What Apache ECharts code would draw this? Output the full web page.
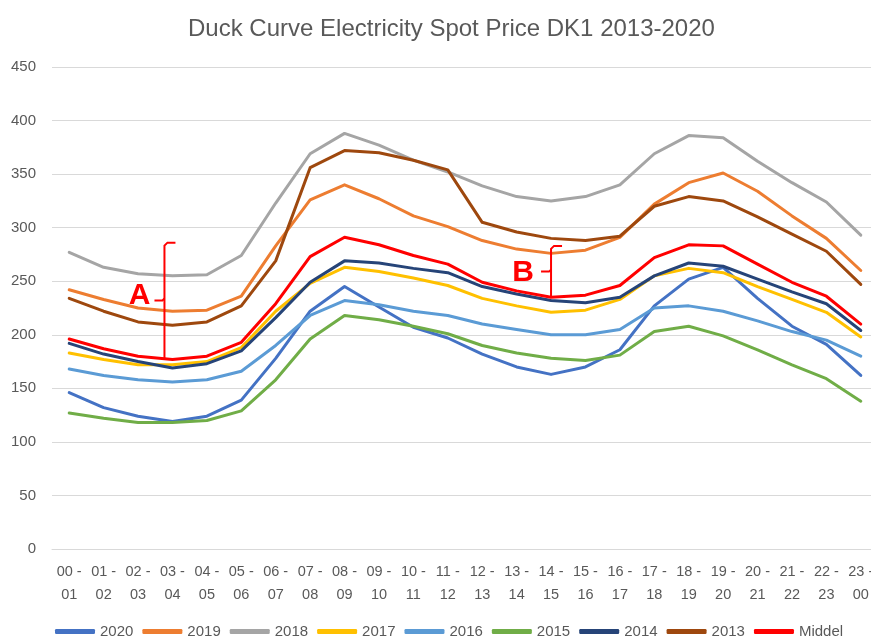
<!DOCTYPE html>
<html>
<head>
<meta charset="utf-8">
<title>Duck Curve</title>
<script src="https://cdn.jsdelivr.net/npm/echarts@6/dist/echarts.min.js"></script>
<style>
html, body { margin: 0; padding: 0; background: #fff; }
#chart { width: 871px; height: 637px; }
</style>
</head>
<body>
<div id="chart"></div>
<script>
// hour intervals on the x axis
var hourLabels = ['00 -\n01','01 -\n02','02 -\n03','03 -\n04','04 -\n05','05 -\n06','06 -\n07','07 -\n08',
                  '08 -\n09','09 -\n10','10 -\n11','11 -\n12','12 -\n13','13 -\n14','14 -\n15','15 -\n16',
                  '16 -\n17','17 -\n18','18 -\n19','19 -\n20','20 -\n21','21 -\n22','22 -\n23','23 -\n00'];

// spot price per hour
var p2020 = [146,132,124,119,124,139,178,222,245,226,207,197,182,170,163,170,186,227,252,263,234,208,191,162];
var p2019 = [242,233,225,222,223,236,283,326,340,327,311,301,288,280,276,279,291,322,342,351,334,311,290,260];
var p2018 = [277,263,257,255,256,274,323,369,388,377,363,352,339,329,325,329,340,369,386,384,362,342,324,293];
var p2017 = [183,177,172,172,175,188,222,248,263,259,253,246,234,227,221,223,233,255,262,258,245,233,221,198];
var p2016 = [168,162,158,156,158,166,190,218,232,228,222,218,210,205,200,200,205,225,227,222,213,203,195,180];
var p2015 = [127,122,118,118,120,129,158,196,218,214,208,201,190,183,178,176,181,203,208,199,186,172,159,138];
var p2014 = [192,182,175,169,173,185,216,249,269,267,262,258,245,238,232,230,235,255,267,264,252,240,229,204];
var p2013 = [234,222,212,209,212,227,269,356,372,370,363,354,305,296,290,288,292,320,329,325,310,294,278,247];
var middel = [196,187,180,177,180,193,229,273,291,284,274,266,249,241,235,237,246,272,284,283,266,249,236,210];

var seriesNames = ['2020','2019','2018','2017','2016','2015','2014','2013','Middel'];
var seriesColors = ['#4472C4','#ED7D31','#A5A5A5','#FFC000','#5B9BD5','#70AD47','#264478','#9E480E','#FF0000'];
var seriesData = [p2020, p2019, p2018, p2017, p2016, p2015, p2014, p2013, middel];

var txt = '#595959';
var gridCol = '#d9d9d9';

var series = [];
for (var i = 0; i < seriesNames.length; i++) {
    series.push({
        name: seriesNames[i],
        type: 'line',
        data: seriesData[i],
        symbol: 'none',
        color: seriesColors[i],
        lineStyle: { width: 3, color: seriesColors[i], cap: 'round', join: 'round' },
        emphasis: { disabled: true },
        z: 2 + i
    });
}

var option = {
    animation: false,
    backgroundColor: '#fff',
    title: {
        text: 'Duck Curve Electricity Spot Price DK1 2013-2020',
        left: 183,
        top: 12,
        textStyle: { color: txt, fontSize: 24, fontWeight: 'normal', fontFamily: 'Liberation Sans' }
    },
    grid: { left: 52, width: 826, top: 67, bottom: 88, containLabel: false, outerBoundsMode: 'none' },
    legend: {
        data: seriesNames,
        top: 624,
        left: 55,
        padding: 0,
        icon: 'roundRect',
        itemWidth: 40,
        itemHeight: 5,
        itemGap: 9,
        textStyle: { color: txt, fontSize: 15, fontFamily: 'Liberation Sans' }
    },
    xAxis: {
        type: 'category',
        data: hourLabels,
        boundaryGap: true,
        axisLine: { show: true, lineStyle: { color: gridCol, width: 1 } },
        axisTick: { show: false },
        axisLabel: { color: txt, fontSize: 14.5, lineHeight: 23, margin: 11, interval: 0, fontFamily: 'Liberation Sans' }
    },
    yAxis: {
        type: 'value',
        min: 0,
        max: 450,
        interval: 50,
        axisLine: { show: false },
        axisTick: { show: false },
        splitLine: { lineStyle: { color: gridCol, width: 1 } },
        axisLabel: { color: txt, fontSize: 15, margin: 16, fontFamily: 'Liberation Sans' }
    },
    series: series
};

var chart = echarts.init(document.getElementById('chart'), null, { renderer: 'canvas' });
chart.setOption(option);

// red brackets A and B
function toPx(idx, val) {
    return chart.convertToPixel({ xAxisIndex: 0, yAxisIndex: 0 }, [idx, val]);
}
function bracket(label, idx, dx, top, bottom, textDx, textDy) {
    var t = toPx(idx, top), b = toPx(idx, bottom);
    var x = t[0] + dx;
    var mid = (t[1] + b[1]) / 2;
    var red = '#FF0000';
    return [
        { type: 'polyline', shape: { points: [[x + 11, t[1]], [x + 3, t[1]], [x, t[1] + 3], [x, b[1]]] },
          style: { stroke: red, lineWidth: 2, fill: null }, z: 100 },
        { type: 'polyline', shape: { points: [[x - 10, mid], [x - 2, mid], [x, mid - 2]] },
          style: { stroke: red, lineWidth: 2, fill: null }, z: 100 },
        { type: 'text', z: 100,
          style: { text: label, x: x + textDx, y: mid + textDy, fill: red,
                   font: 'bold 30px "Liberation Sans", Arial, sans-serif',
                   align: 'center', verticalAlign: 'middle' } }
    ];
}
var marks = bracket('A', 3, -8, 286, 178, -25, -5).concat(bracket('B', 14, 0, 283, 235, -28, 1));
chart.setOption({ graphic: { elements: marks } });
</script>
</body>
</html>
